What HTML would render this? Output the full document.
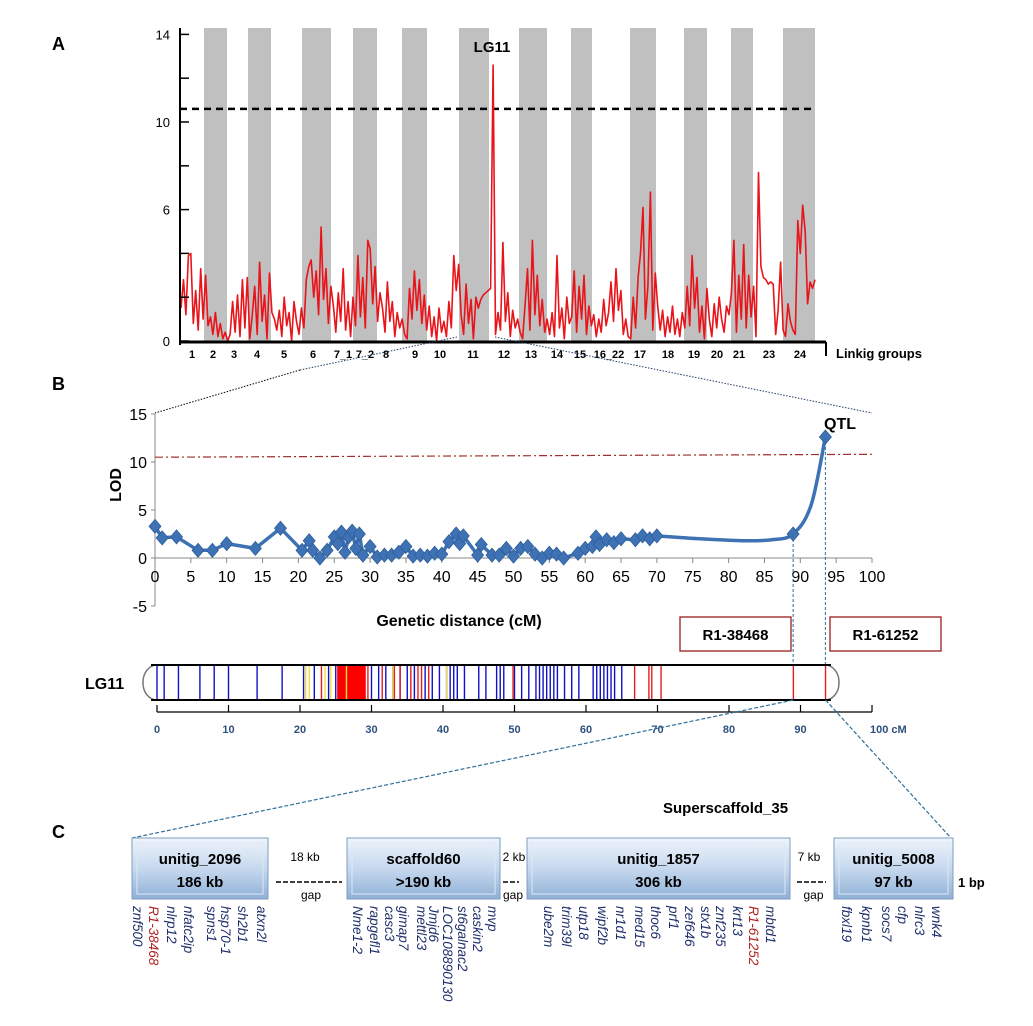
<!DOCTYPE html>
<html><head><meta charset="utf-8"><style>
body{margin:0;background:#fff;}
svg{display:block;font-family:"Liberation Sans",sans-serif;}
.g{font-style:italic;font-size:13.5px;fill:#1f2f6b;}
</style></head><body>
<svg id="fig" width="1033" height="1026" viewBox="0 0 1033 1026" xmlns="http://www.w3.org/2000/svg">
<defs>
<linearGradient id="boxg" x1="0" y1="0" x2="0" y2="1">
<stop offset="0" stop-color="#eef4fb"/><stop offset="0.5" stop-color="#c6d8ee"/><stop offset="1" stop-color="#8fb0d6"/>
</linearGradient>
</defs>
<text x="52" y="50" font-size="18" font-weight="bold">A</text>
<text x="52" y="390" font-size="18" font-weight="bold">B</text>
<text x="52" y="838" font-size="18" font-weight="bold">C</text>
<g id="pa"></g>
<g id="pb"></g>
<g id="pchr"></g>
<g id="pc"></g>
</svg>
<script>
// ---------- Panel A data ----------
const groupLabels=["1","2","3","4","5","6","7_1","7_2","8","9","10","11","12","13","14","15","16_22","17","18","19","20","21","23","24"];
const groupLabelX=[192,213,234,257,284,313,343,365,386,415,440,473,504,531,557,580,609,640,668,694,717,739,769,800];
const stripeStart=[204,248,302,353,402,459,519,571,630,684,731,783];
const stripeEnd=[227,271,331,377,427,489,547,592,656,707,753,815];
const aTicks=[0,6,10,14];
const aThreshold=10.6;
const genomeLod=[1.5,2.8,1.2,3.9,4.0,0.8,2.3,0.5,3.3,1.0,
3.0,0.7,1.1,0.3,1.3,0.2,0.8,0.1,0.4,0.0,
0.3,1.8,0.4,2.1,0.2,2.8,0.6,2.9,0.1,
1.2,2.5,0.3,3.6,0.9,2.1,0.1,3.1,1.3,
1.0,0.5,1.4,0.2,2.0,0.7,1.3,0.0,1.8,0.9,0.3,1.5,0.6,
2.8,3.4,3.7,2.0,3.2,1.2,5.2,1.9,3.3,0.8,2.5,1.6,
0.4,2.2,0.9,3.3,0.5,1.8,0.2,2.0,0.7,
3.9,1.1,2.9,0.6,4.6,4.2,1.7,3.4,0.9,2.2,
1.5,0.4,2.7,0.9,1.8,0.2,1.3,0.6,1.0,0.3,
0.1,2.4,1.0,3.2,1.4,2.8,0.8,2.1,0.5,1.6,
0.2,1.1,0.0,1.5,0.4,0.9,0.2,1.8,0.6,3.9,2.3,3.5,1.2,
0.3,2.6,0.8,1.9,0.1,2.0,1.5,1.9,2.1,2.2,2.3,2.4,12.6,
0.3,1.3,0.5,4.5,0.9,2.2,0.2,1.4,0.6,1.0,0.4,
0.1,1.6,3.3,0.5,4.6,1.2,3.0,0.7,1.9,0.4,1.0,
0.3,1.3,0.2,3.9,0.6,1.5,0.1,2.0,0.8,1.1,
3.2,0.4,2.5,1.0,3.0,0.3,1.6,0.7,1.2,
0.2,1.0,0.4,1.9,0.7,1.3,2.7,0.9,3.3,1.4,2.3,0.3,1.0,0.2,0.1,
2.0,0.6,2.9,4.0,6.1,1.0,2.5,6.8,0.5,3.1,1.6,
0.5,1.4,0.2,1.1,0.4,1.6,0.3,1.0,0.2,1.3,0.6,
2.5,0.7,3.9,1.5,2.9,0.4,1.6,0.1,2.4,1.0,
0.2,1.7,0.6,2.0,1.0,0.4,1.6,1.2,2.2,4.6,
0.4,3.0,1.0,4.4,0.6,3.0,1.1,2.5,0.2,
7.7,3.4,2.9,2.8,2.6,2.7,2.6,0.3,1.4,3.6,0.5,0.2,
1.7,0.9,0.5,0.3,5.5,4.0,6.2,5.0,1.7,2.7,2.4,2.8];
// ---------- Panel B data ----------
const cmPos=[0,1,3,6,8,10,14,17.5,20.5,21.5,22,23,24,25,25.5,26,26.5,27,27.5,28,28.5,29,30,31,32,33,34,35,36,37,38,39,40,41,42,42.5,43,45,45.5,47,48,49,50,51,52,53,54,55,56,57,59,60,61,61.5,62,63,64,65,67,68,69,70];
const cmLod=[3.3,2.1,2.2,0.8,0.8,1.5,1.0,3.1,0.8,1.8,0.8,0,0.8,2.2,1.5,2.7,0.6,2.2,2.8,1.0,2.5,0.3,1.2,0.1,0.3,0.3,0.6,1.2,0.2,0.3,0.2,0.5,0.4,1.7,2.5,1.5,2.3,0.3,1.4,0.3,0.3,1.0,0.2,1.0,1.2,0.4,0,0.5,0.4,0,0.5,1.0,1.2,2.2,1.4,1.9,1.6,2.0,1.9,2.3,2.0,2.3];
const tailPos=[70,76,82,86,89,91.5,93.5];
const tailLod=[2.3,2.0,1.8,1.9,2.5,5.5,12.6];
const flankPos=[89,93.5];
const flankLod=[2.5,12.6];
const bYTicks=[-5,0,5,10,15];
const bXTicks=[0,5,10,15,20,25,30,35,40,45,50,55,60,65,70,75,80,85,90,95,100];
// ---------- Chromosome marker data ----------
const blueMarkers=[0,1,3,6,8,10,14,17.5,20.5,22,24,25,30,31,32,33,34,35,36,37.5,38.5,39.5,40.5,41,41.5,42,43,45,46,47.5,48,48.5,50,51,52,53,53.5,54,54.5,55,55.5,56,57,58,59,61,61.5,62,62.5,63,63.5,64,65];
const redMarkers=[23,29.5,31.5,33.2,34,35.5,36.5,37,38,49.8,66.8,68.8,69.2,70.5,89,93.5];
const yellowMarkers=[20.8,21.3,23.5,24.3,26.5,33,40.5];
const redBlock=[25.2,29.2];
const chrTicks=[0,10,20,30,40,50,60,70,80,90,100];

const NS="http://www.w3.org/2000/svg";
function mk(tag,attrs,parent,text){const e=document.createElementNS(NS,tag);for(const k in attrs)e.setAttribute(k,attrs[k]);if(text!==undefined)e.textContent=text;parent.appendChild(e);return e;}

// ---------- Panel A ----------
const pa=document.getElementById('pa');
const ay=v=>341-v*21.9;
stripeStart.forEach((s,i)=>{const r=mk('rect',{x:s,y:28,width:stripeEnd[i]-s,height:313,fill:'#c0c0c0'},pa);

});
let l=mk('line',{x1:180,y1:ay(aThreshold),x2:815,y2:ay(aThreshold),stroke:'#000','stroke-width':2.5,'stroke-dasharray':'7,5'},pa);


const step=(815-181)/(genomeLod.length-1);
let d='';genomeLod.forEach((v,i)=>{d+=(i?'L':'M')+(181+i*step).toFixed(1)+','+ay(v).toFixed(1);});
let p=mk('path',{d:d,fill:'none',stroke:'#e8141a','stroke-width':1.6,'stroke-linejoin':'round'},pa);


mk('line',{x1:180,y1:28,x2:180,y2:345,stroke:'#000','stroke-width':2},pa);
mk('line',{x1:180,y1:342,x2:826,y2:342,stroke:'#000','stroke-width':3},pa);
mk('line',{x1:826,y1:342,x2:826,y2:356,stroke:'#000','stroke-width':2},pa);
[0,2,4,6,8,10,12,14].forEach(v=>mk('line',{x1:180,y1:ay(v),x2:189,y2:ay(v),stroke:'#000','stroke-width':1.5},pa));
aTicks.forEach(v=>{const t=mk('text',{x:170,y:ay(v)+5,'text-anchor':'end','font-size':13},pa,String(v));

});
groupLabels.forEach((g,i)=>{const t=mk('text',{x:groupLabelX[i],y:358,'text-anchor':'middle','font-size':11,'font-weight':'bold'},pa,g);

});
let t=mk('text',{x:836,y:358,'font-size':13,'font-weight':'bold'},pa,'Linkig groups');


t=mk('text',{x:492,y:52,'text-anchor':'middle','font-size':15,'font-weight':'bold'},pa,'LG11');


mk('line',{x1:300,y1:370,x2:155,y2:413,stroke:'#000','stroke-width':1,'stroke-dasharray':'1.5,1.5'},pa);
mk('line',{x1:457,y1:337,x2:300,y2:370,stroke:'#1f3f6b','stroke-width':1,'stroke-dasharray':'1.5,1.5'},pa);
mk('line',{x1:495,y1:337,x2:872,y2:413,stroke:'#1f3f6b','stroke-width':1,'stroke-dasharray':'1.5,1.5'},pa);

// ---------- Panel B ----------
const pb=document.getElementById('pb');
const bx=c=>155+c*7.17, by=v=>558-v*9.6;
mk('line',{x1:155,y1:by(15),x2:155,y2:by(-5),stroke:'#888','stroke-width':1},pb);
mk('line',{x1:155,y1:by(0),x2:bx(100),y2:by(0),stroke:'#888','stroke-width':1},pb);
bYTicks.forEach(v=>{mk('line',{x1:151,y1:by(v),x2:155,y2:by(v),stroke:'#888'},pb);
const tt=mk('text',{x:147,y:by(v)+6,'text-anchor':'end','font-size':16},pb,String(v));

});
bXTicks.forEach(v=>{mk('line',{x1:bx(v),y1:by(0),x2:bx(v),y2:by(0)+5,stroke:'#888'},pb);
const tt=mk('text',{x:bx(v),y:by(0)+24,'text-anchor':'middle','font-size':16},pb,String(v));

});
l=mk('line',{x1:bx(0),y1:by(10.5),x2:bx(100),y2:by(10.8),stroke:'#a0302a','stroke-width':1.2,'stroke-dasharray':'8,3,2,3'},pb);


d='';cmPos.forEach((c,i)=>{d+=(i?'L':'M')+bx(c).toFixed(1)+','+by(cmLod[i]).toFixed(1);});
p=mk('path',{d:d,fill:'none',stroke:'#3e72b4','stroke-width':3.5,'stroke-linejoin':'round'},pb);


const tp=tailPos.map((c,i)=>[bx(c),by(tailLod[i])]);
d='M'+tp[0][0]+','+tp[0][1];
for(let i=0;i<tp.length-1;i++){const p0=tp[Math.max(0,i-1)],p1=tp[i],p2=tp[i+1],p3=tp[Math.min(tp.length-1,i+2)];
d+=`C${p1[0]+(p2[0]-p0[0])/6},${p1[1]+(p2[1]-p0[1])/6} ${p2[0]-(p3[0]-p1[0])/6},${p2[1]-(p3[1]-p1[1])/6} ${p2[0]},${p2[1]}`;}
p=mk('path',{d:d,fill:'none',stroke:'#3e72b4','stroke-width':3.5},pb);


cmPos.concat(flankPos).forEach((c,i)=>{const v=i<cmPos.length?cmLod[i]:flankLod[i-cmPos.length];
const x=bx(c),y=by(v);const m=mk('path',{d:`M${x},${y-7}L${x+6},${y}L${x},${y+7}L${x-6},${y}Z`,fill:'#3e72b4',stroke:'#2f5f9a','stroke-width':0.8},pb);

});
flankPos.forEach((c,i)=>mk('line',{x1:bx(c),y1:by(flankLod[i]),x2:bx(c),y2:665,stroke:'#2f6f9a','stroke-width':1,'stroke-dasharray':'3,2'},pb));
t=mk('text',{x:840,y:429,'text-anchor':'middle','font-size':16,'font-weight':'bold'},pb,'QTL');


t=mk('text',{x:121,y:485,'text-anchor':'middle','font-size':16,'font-weight':'bold',transform:'rotate(-90 121 485)'},pb,'LOD');


t=mk('text',{x:459,y:626,'text-anchor':'middle','font-size':16,'font-weight':'bold'},pb,'Genetic distance (cM)');


[[680,'R1-38468','marker-box-r1-38468'],[830,'R1-61252','marker-box-r1-61252']].forEach(a=>{
mk('rect',{x:a[0],y:617,width:111,height:34,fill:'#fff',stroke:'#9b1c1c','stroke-width':1.3},pb);
const tt=mk('text',{x:a[0]+55.5,y:640,'text-anchor':'middle','font-size':15,'font-weight':'bold'},pb,a[1]);

});

// ---------- Chromosome ----------
const pc=document.getElementById('pchr');
const cx=c=>157+c*7.15;
const chr=mk('rect',{x:143,y:665,width:696,height:35,rx:14,ry:17,fill:'#fff',stroke:'#777','stroke-width':1.5},pc);


mk('rect',{x:cx(redBlock[0]),y:665,width:cx(redBlock[1])-cx(redBlock[0]),height:35,fill:'#f00'},pc);
[[blueMarkers,'#1010c8'],[redMarkers,'#e02020'],[yellowMarkers,'#f0e040']].forEach(s=>s[0].forEach(c=>{
const m=mk('line',{x1:cx(c),y1:665,x2:cx(c),y2:700,stroke:s[1],'stroke-width':1.4},pc);

}));
mk('line',{x1:151,y1:665,x2:831,y2:665,stroke:'#000','stroke-width':2},pc);
mk('line',{x1:151,y1:700,x2:831,y2:700,stroke:'#000','stroke-width':2},pc);
t=mk('text',{x:85,y:689,'font-size':16,'font-weight':'bold'},pc,'LG11');


mk('line',{x1:cx(0),y1:712,x2:cx(100),y2:712,stroke:'#000','stroke-width':1.2},pc);
chrTicks.forEach(v=>{mk('line',{x1:cx(v),y1:705,x2:cx(v),y2:712,stroke:'#000','stroke-width':1.2},pc);
const tt=mk('text',{x:cx(v)+(v===100?-2:0),y:733,'text-anchor':v===100?'start':'middle','font-size':11,'font-weight':'bold',fill:'#2f4f7f'},pc,v===100?'100 cM':String(v));

});
mk('line',{x1:cx(89),y1:700,x2:132,y2:838,stroke:'#2f6f9a','stroke-width':1.2,'stroke-dasharray':'4,2'},pc);
mk('line',{x1:cx(93.5),y1:700,x2:951,y2:838,stroke:'#2f6f9a','stroke-width':1.2,'stroke-dasharray':'4,2'},pc);

// ---------- Panel C ----------
const pcc=document.getElementById('pc');
t=mk('text',{x:663,y:813,'font-size':15,'font-weight':'bold'},pcc,'Superscaffold_35');


const boxes=[[132,268,'unitig_2096','186 kb'],[347,500,'scaffold60','>190 kb'],[527,790,'unitig_1857','306 kb'],[834,953,'unitig_5008','97 kb']];
boxes.forEach(b=>{const g=mk('g',{},pcc);


mk('rect',{x:b[0],y:838,width:b[1]-b[0],height:61,fill:'url(#boxg)',stroke:'#7f9cc0','stroke-width':1},g);
mk('rect',{x:b[0]+5,y:843,width:b[1]-b[0]-10,height:51,fill:'none',stroke:'#dde8f5','stroke-width':1},g);
mk('text',{x:(b[0]+b[1])/2,y:864,'text-anchor':'middle','font-size':15,'font-weight':'bold'},g,b[2]);
mk('text',{x:(b[0]+b[1])/2,y:887,'text-anchor':'middle','font-size':15,'font-weight':'bold'},g,b[3]);});
[[276,342,'18 kb',305],[503,519,'2 kb',514],[797,826,'7 kb',809]].forEach(g=>{
mk('line',{x1:g[0],y1:882,x2:g[1],y2:882,stroke:'#000','stroke-width':1.5,'stroke-dasharray':'5,2'},pcc);
const a=mk('text',{x:g[3],y:861,'text-anchor':'middle','font-size':12},pcc,g[2]);


const b=mk('text',{x:(g[0]+g[1])/2+2,y:899,'text-anchor':'middle','font-size':12},pcc,'gap');

});
t=mk('text',{x:958,y:887,'font-size':13,'font-weight':'bold'},pcc,'1 bp');


const genes=[[138,'znf500'],[154,'R1-38468',1],[172,'nlrp12'],[189,'nfatc2ip'],[212,'spns1'],[226,'hsp70-1'],[243,'sh2b1'],[262,'atxn2l'],
[358,'Nme1-2'],[375,'rapgefl1'],[390,'casc3'],[404,'gimap7'],[422,'mettl23'],[434,'Jmjd6'],[448,'LOC108890130'],[463,'st6galnac2'],[478,'caskin2'],[493,'mvp'],
[549,'ube2m'],[567,'trim39l'],[584,'utp18'],[603,'wipf2b'],[621,'nr1d1'],[640,'med15'],[656,'thoc6'],[674,'prf1'],[690,'zef646'],[706,'stx1b'],[721,'znf235'],[738,'krt13'],[754,'R1-61252',1],[771,'mbtd1'],
[847,'fbxl19'],[867,'kpnb1'],[887,'socs7'],[903,'cfp'],[920,'nlrc3'],[937,'wnk4']];
genes.forEach(g=>{const x=g[0]-5,y=906;
const e=mk('text',{x:x,y:y,class:'g',transform:`rotate(90 ${x} ${y})`},pcc,g[1]);
if(g[2])e.setAttribute('style','fill:#b22222');

});
</script>
</body></html>
